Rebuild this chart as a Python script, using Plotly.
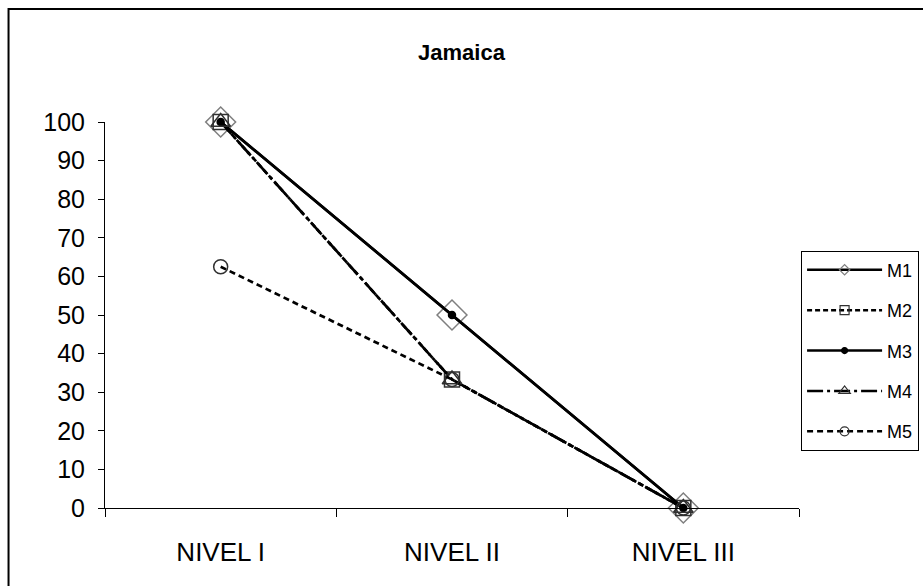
import plotly.graph_objects as go

# Categories and series values
niveles = ["NIVEL I", "NIVEL II", "NIVEL III"]
m1 = [100, 50, 0]
m2 = [100, 33.3, 0]
m3 = [100, 50, 0]
m4 = [100, 33.3, 0]
m5 = [62.5, 33.3, 0]
y_ticks = [0, 10, 20, 30, 40, 50, 60, 70, 80, 90, 100]

FONT = "Arial, Liberation Sans, sans-serif"

series = [
    # name, values, dash, symbol, plot size, legend size, marker color
    ("M1", m1, "solid", "diamond-open", 23, 8, "#7f7f7f"),
    ("M2", m2, "5px,3px", "square-open", 15, 9, "#303030"),
    ("M3", m3, "solid", "circle", 7, 6, "#000000"),
    ("M4", m4, "16px,4px,3px,4px", "triangle-up-open", 17, 10, "#303030"),
    ("M5", m5, "6px,4px", "circle-open", 14, 9, "#303030"),
]

fig = go.Figure()

for name, vals, dash, sym, size, lsize, mcol in series:
    fig.add_trace(go.Scatter(
        x=niveles, y=vals, mode="lines+markers", name=name,
        line=dict(color="black", width=2.7, dash=dash),
        marker=dict(symbol=sym, size=size, color=mcol,
                    line=dict(color=mcol, width=1.5)),
        cliponaxis=False,
        showlegend=False,
    ))

# Legend entries with smaller markers
for name, vals, dash, sym, size, lsize, mcol in series:
    fig.add_trace(go.Scatter(
        x=[None], y=[None], mode="lines+markers", name=name,
        legendgroup=name,
        line=dict(color="black", width=2.5, dash=dash),
        marker=dict(symbol=sym, size=lsize, color=mcol,
                    line=dict(color=mcol, width=1.2)),
    ))

fig.update_layout(
    width=923, height=586,
    margin=dict(l=105, r=124, t=122, b=78, autoexpand=False),
    paper_bgcolor="white", plot_bgcolor="white",
    font=dict(family=FONT, color="black", size=22),
    title=dict(text="<b>Jamaica</b>", x=0.5, xanchor="center",
               y=0.911, yanchor="middle", yref="container",
               font=dict(family=FONT, size=22, color="black")),
    legend=dict(
        x=1.003, xanchor="left", y=0.667, yanchor="top",
        bordercolor="black", borderwidth=1,
        font=dict(family=FONT, size=18, color="black"),
        itemwidth=75, tracegroupgap=14,
        bgcolor="white",
    ),
    xaxis=dict(
        type="category", range=[-0.5, 2.5],
        showline=True, linecolor="black", linewidth=1,
        ticks="outside", tickson="boundaries", ticklen=8,
        tickcolor="black", tickwidth=1,
        showgrid=False, zeroline=False,
        ticklabelstandoff=21,
        tickfont=dict(family=FONT, size=26, color="black"),
    ),
    yaxis=dict(
        range=[0, 100], tickvals=y_ticks,
        showline=True, linecolor="black", linewidth=1,
        ticks="outside", ticklen=6, tickcolor="black", tickwidth=1,
        showgrid=False, zeroline=False,
        ticklabelstandoff=8,
        tickfont=dict(family=FONT, size=25, color="black"),
    ),
    shapes=[
        # outer chart frame
        dict(type="rect", xref="paper", yref="paper",
             x0=-0.139, x1=1.25, y0=-0.3, y1=1.2927,
             line=dict(color="black", width=2), layer="below"),
    ],
)

fig.write_html("out.html")
